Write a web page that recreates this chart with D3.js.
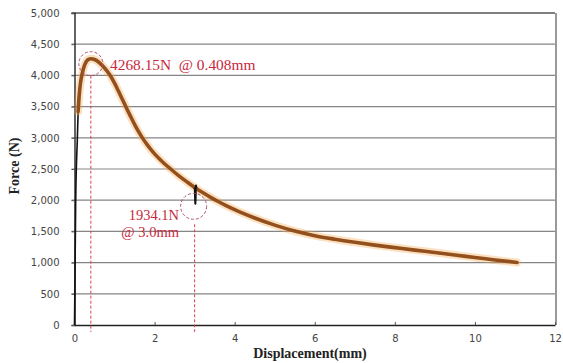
<!DOCTYPE html>
<html><head><meta charset="utf-8">
<script src="https://cdn.jsdelivr.net/npm/d3@7"></script>
<style>body{margin:0;background:#fff}svg{display:block}</style>
</head><body>
<script>
// Fitted curve (brown)
const fitDisp  = [0.09, 0.12, 0.15, 0.2, 0.25, 0.3, 0.35, 0.408, 0.5, 0.6, 0.7, 0.8, 0.9, 1.0, 1.1, 1.2, 1.3, 1.4, 1.5, 1.6, 1.7, 1.8, 1.9, 2.0, 2.2, 2.4, 2.6, 2.8, 3.0, 3.2, 3.4, 3.6, 3.8, 4.0, 4.5, 5.0, 5.5, 6.0, 6.5, 7.0, 7.5, 8.0, 8.5, 9.0, 9.5, 10.0, 10.5, 11.05];
const fitForce = [3420, 3700, 3880, 4050, 4160, 4225, 4258, 4268, 4255, 4215, 4155, 4080, 3990, 3875, 3745, 3610, 3475, 3343, 3215, 3098, 2995, 2902, 2818, 2743, 2613, 2500, 2395, 2298, 2205, 2122, 2046, 1975, 1910, 1848, 1714, 1601, 1506, 1432, 1375, 1325, 1280, 1240, 1200, 1161, 1121, 1082, 1043, 1002];
// Raw test data (black)
const rawDisp  = [0, 0.01, 0.03, 0.07, 0.1, 0.15, 0.2, 0.25, 0.3, 0.408, 0.6, 0.9, 1.3, 1.7, 2.0, 2.4, 2.8, 3.0, 3.02, 3.03, 3.05, 3.2, 3.6, 4.0, 5.0, 6.0, 8.0, 11.05];
const rawForce = [0, 600, 2000, 2960, 3560, 3880, 4050, 4160, 4225, 4268, 4215, 3990, 3475, 2995, 2743, 2500, 2298, 2205, 1934, 2244, 2190, 2122, 1975, 1848, 1601, 1432, 1240, 1002];
const yTicks = [0, 500, 1000, 1500, 2000, 2500, 3000, 3500, 4000, 4500, 5000];
const xTicks = [0, 2, 4, 6, 8, 10, 12];
const peak = {disp: 0.408, force: 4268.15, label: "4268.15N  @ 0.408mm"};
const point3 = {disp: 3.0, force: 1934.1, label1: "1934.1N", label2: "@ 3.0mm"};
const xTitle = "Displacement(mm)";
const yTitle = "Force (N)";

const W = 563, H = 363;
const svg = d3.select("body").append("svg").attr("width", W).attr("height", H);
const x = d3.scaleLinear().domain([0, 12]).range([74.5, 555]);
const y = d3.scaleLinear().domain([0, 5000]).range([325, 13]);

// gridlines
svg.append("g").selectAll("line").data(yTicks.filter(d => d > 0)).join("line")
  .attr("x1", x(0) - 3).attr("x2", x(12)).attr("y1", d => y(d)).attr("y2", d => y(d))
  .attr("stroke", d => d === 5000 ? "#555" : "#858585").attr("stroke-width", d => d === 5000 ? 1.6 : 1.2);
// right border
svg.append("line").attr("x1", x(12) + 1).attr("x2", x(12) + 1).attr("y1", y(5000)).attr("y2", y(0))
  .attr("stroke", "#999").attr("stroke-width", 2);

// axes
const yAxis = d3.axisLeft(y).tickValues(yTicks).tickFormat(d3.format(",")).tickSize(3).tickPadding(12);
const gy = svg.append("g").attr("transform", `translate(${x(0)},0)`).call(yAxis);
gy.select(".domain").attr("stroke", "#222").attr("stroke-width", 1.4);
gy.selectAll(".tick line").attr("stroke", "#555");
gy.selectAll("text").attr("font-family", "DejaVu Sans").attr("font-size", 10).attr("fill", "#444");

const xAxis = d3.axisBottom(x).tickValues(xTicks).tickSize(-3).tickPadding(10).tickSizeOuter(0);
const gx = svg.append("g").attr("transform", `translate(0,${y(0)})`).call(xAxis);
gx.select(".domain").attr("stroke", "#222").attr("stroke-width", 1.6);
gx.selectAll(".tick line").attr("stroke", "#555");
gx.selectAll("text").attr("font-family", "DejaVu Sans").attr("font-size", 10).attr("fill", "#444");

// titles
svg.append("text").attr("x", 310).attr("y", 358).attr("text-anchor", "middle")
  .attr("font-family", "Liberation Serif").attr("font-weight", "bold").attr("font-size", 14).attr("fill", "#222").text(xTitle);
svg.append("text").attr("transform", "translate(19,166) rotate(-90)").attr("text-anchor", "middle")
  .attr("font-family", "Liberation Serif").attr("font-weight", "bold").attr("font-size", 14).attr("fill", "#222").text(yTitle);

// raw line
const raw = rawDisp.map((d, i) => [d, rawForce[i]]);
const rawGen = d3.line().x(d => x(d[0])).y(d => y(d[1])).curve(d3.curveMonotoneX);
svg.append("path").datum(raw).attr("d", rawGen)
  .attr("fill", "none").attr("stroke", "#111").attr("stroke-width", 1.6);

// fit line with glow
const fit = fitDisp.map((d, i) => [d, fitForce[i]]);
const fitGen = d3.line().x(d => x(d[0])).y(d => y(d[1])).curve(d3.curveMonotoneX);
svg.append("path").datum(fit).attr("d", fitGen).attr("fill", "none")
  .attr("stroke", "#f3a94f").attr("stroke-opacity", 0.35).attr("stroke-width", 8).attr("stroke-linecap", "round");
svg.append("path").datum(fit).attr("d", fitGen).attr("fill", "none")
  .attr("stroke", "#93501c").attr("stroke-width", 3.6).attr("stroke-linecap", "round");
// raw spike on top
const spike = raw.filter(d => d[0] >= 3.0 && d[0] <= 3.05);
svg.append("path").datum(spike).attr("d", d3.line().x(d => x(d[0])).y(d => y(d[1])))
  .attr("fill", "none").attr("stroke", "#111").attr("stroke-width", 1.8);

// annotations
const red = "#c8283c";
svg.append("circle").attr("cx", x(peak.disp)).attr("cy", y(peak.force) + 5).attr("r", 12)
  .attr("fill", "none").attr("stroke", "#b0506a").attr("stroke-width", 1).attr("stroke-dasharray", "3,2");
svg.append("line").attr("x1", x(peak.disp)).attr("x2", x(peak.disp)).attr("y1", y(peak.force) + 17).attr("y2", y(0) + 7)
  .attr("stroke", "#d8404f").attr("stroke-width", 1).attr("stroke-dasharray", "3,2");
svg.append("text").attr("x", 110).attr("y", 70).attr("font-family", "Liberation Serif").attr("font-size", 15.4)
  .attr("fill", red).style("white-space", "pre").text(peak.label);

svg.append("circle").attr("cx", x(point3.disp) - 1).attr("cy", y(point3.force) + 2).attr("r", 13)
  .attr("fill", "none").attr("stroke", "#b0506a").attr("stroke-width", 1).attr("stroke-dasharray", "3,2");
svg.append("line").attr("x1", x(point3.disp)).attr("x2", x(point3.disp)).attr("y1", y(point3.force) + 20).attr("y2", y(0) + 7)
  .attr("stroke", "#d8404f").attr("stroke-width", 1).attr("stroke-dasharray", "3,2");
const t3 = svg.append("text").attr("text-anchor", "end").attr("font-family", "Liberation Serif").attr("font-size", 14.5)
  .attr("fill", red);
t3.append("tspan").attr("x", 179).attr("y", 220).text(point3.label1);
t3.append("tspan").attr("x", 179).attr("y", 236.5).text(point3.label2);
</script>
</body></html>
